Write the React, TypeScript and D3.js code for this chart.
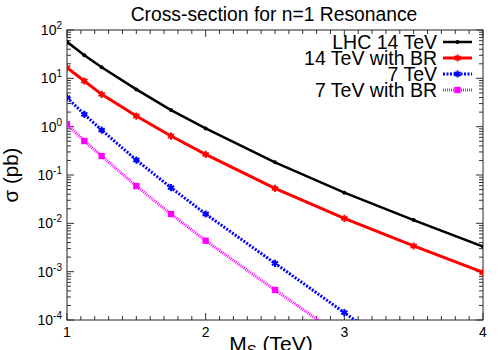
import React, { useRef, useEffect } from "react";
import * as d3 from "d3";

const masses = [1, 1.125, 1.25, 1.5, 1.75, 2, 2.5, 3, 3.5, 4];
const lhc14 = [57, 30, 16.9, 5.9, 2.2, 0.92, 0.183, 0.043, 0.0117, 0.0033];
const lhc14BR = [16.6, 8.8, 4.67, 1.66, 0.64, 0.268, 0.053, 0.0127, 0.0034, 0.00097];
const lhc7 = [3.98, 1.8, 0.85, 0.204, 0.0547, 0.0156, 0.00149, 0.000142, 0.000014, 0.0000014];
const lhc7BR = [1.12, 0.505, 0.247, 0.059, 0.0156, 0.00437, 0.000418, 0.000042, 0.0000042, 0.00000042];

const xTicks = [1, 2, 3, 4];
const yExponents = [-4, -3, -2, -1, 0, 1, 2];

const seriesList = [
  { name: "LHC 14 TeV", values: lhc14, color: "#000000", width: 2.5, dash: null, marker: "dot" },
  { name: "14 TeV with BR", values: lhc14BR, color: "#ff0000", width: 3, dash: null, marker: "star" },
  { name: "7 TeV", values: lhc7, color: "#0000ff", width: 3, dash: "2,1.5", marker: "star" },
  { name: "7 TeV with BR", values: lhc7BR, color: "#ff00ff", width: 3, dash: "1,1", marker: "square" },
];

export default function App() {
  const chartRef = useRef<SVGSVGElement>(null);

  useEffect(() => {
    const width = 500;
    const height = 350;
    const margin = { top: 30, right: 17, bottom: 30, left: 67 };

    const svg = d3.select(chartRef.current);
    svg.selectAll("*").remove();
    svg.attr("width", width).attr("height", height)
      .style("font-family", "'Liberation Sans', Arial, sans-serif");

    const x = d3.scaleLinear().domain([1, 4]).range([margin.left, width - margin.right]);
    const y = d3.scaleLog().domain([1e-4, 1e2]).range([height - margin.bottom, margin.top]);
    const [x0, x1] = x.range();
    const [y0, y1] = y.range();

    svg.append("defs").append("clipPath").attr("id", "plot-clip")
      .append("rect").attr("x", x0).attr("y", y1).attr("width", x1 - x0).attr("height", y0 - y1);

    // title
    svg.append("text").attr("x", 274).attr("y", 21)
      .attr("text-anchor", "middle").attr("font-size", 19.3).text("Cross-section for n=1 Resonance");

    const frame = svg.append("g").attr("stroke", "#333").attr("stroke-width", 1);

    // x ticks, bottom and top
    const xMinor = d3.range(10, 41).map(d => d / 10);
    xMinor.forEach(v => {
      const major = Number.isInteger(v);
      const len = major ? 7 : 4;
      frame.append("line").attr("x1", x(v)).attr("x2", x(v)).attr("y1", y0).attr("y2", y0 - len);
      frame.append("line").attr("x1", x(v)).attr("x2", x(v)).attr("y1", y1).attr("y2", y1 + len);
    });

    // y ticks, left and right
    yExponents.forEach(e => {
      const v = Math.pow(10, e);
      frame.append("line").attr("x1", x0).attr("x2", x0 + 7).attr("y1", y(v)).attr("y2", y(v));
      frame.append("line").attr("x1", x1).attr("x2", x1 - 7).attr("y1", y(v)).attr("y2", y(v));
      if (e < 2) {
        d3.range(2, 10).forEach(m => {
          const mv = m * v;
          frame.append("line").attr("x1", x0).attr("x2", x0 + 4).attr("y1", y(mv)).attr("y2", y(mv));
          frame.append("line").attr("x1", x1).attr("x2", x1 - 4).attr("y1", y(mv)).attr("y2", y(mv));
        });
      }
    });

    frame.append("rect").attr("x", x0).attr("y", y1).attr("width", x1 - x0).attr("height", y0 - y1)
      .attr("fill", "none").attr("stroke", "#222");

    // tick labels
    xTicks.forEach(v => {
      svg.append("text").attr("x", x(v)).attr("y", y0 + 17).attr("text-anchor", "middle")
        .attr("font-size", 14).text(v);
    });
    yExponents.forEach(e => {
      const t = svg.append("text").attr("x", x0 - 5).attr("y", y(Math.pow(10, e)) + 5)
        .attr("text-anchor", "end").attr("font-size", 14);
      t.append("tspan").text("10");
      t.append("tspan").attr("dy", -6).attr("font-size", 10).text(e);
    });

    // axis labels
    const xl = svg.append("text").attr("x", 271).attr("y", y0 + 31)
      .attr("text-anchor", "middle").attr("font-size", 21);
    xl.append("tspan").text("M");
    xl.append("tspan").attr("dy", 4).attr("font-size", 15).text("S");
    xl.append("tspan").attr("dy", -4).text(" (TeV)");

    svg.append("text").attr("transform", `translate(18,${(y0 + y1) / 2}) rotate(-90)`)
      .attr("text-anchor", "middle").attr("font-size", 20.5).text("σ (pb)");

    const line = d3.line<number>().x((_, i) => x(masses[i])).y(d => y(d));
    const star = d3.symbol().type(d3.symbolAsterisk).size(36)();
    const square = d3.symbol().type(d3.symbolSquare).size(40)();

    const drawMarker = (g: any, s: any, px: number, py: number) => {
      if (s.marker === "dot") {
        g.append("circle").attr("cx", px).attr("cy", py).attr("r", 2).attr("fill", s.color);
      } else if (s.marker === "star") {
        g.append("path").attr("d", star).attr("transform", `translate(${px},${py})`)
          .attr("fill", "none").attr("stroke", s.color).attr("stroke-width", 2);
      } else {
        g.append("path").attr("d", square).attr("transform", `translate(${px},${py})`)
          .attr("fill", s.color);
      }
    };

    const plot = svg.append("g").attr("clip-path", "url(#plot-clip)");
    seriesList.forEach(s => {
      plot.append("path").datum(s.values).attr("d", line)
        .attr("fill", "none").attr("stroke", s.color).attr("stroke-width", s.width)
        .attr("stroke-dasharray", s.dash);
      s.values.forEach((v, i) => {
        if (v >= 1e-4) drawMarker(plot, s, x(masses[i]), y(v));
      });
    });

    // legend
    const legend = svg.append("g");
    seriesList.forEach((s, i) => {
      const ly = 42 + i * 16;
      legend.append("text").attr("x", 437).attr("y", ly + 6.5).attr("text-anchor", "end")
        .attr("font-size", 19.5).text(s.name);
      legend.append("line").attr("x1", 443).attr("x2", 472).attr("y1", ly).attr("y2", ly)
        .attr("stroke", s.color).attr("stroke-width", s.width).attr("stroke-dasharray", s.dash);
      drawMarker(legend, s, 457.5, ly);
    });
  }, []);

  return (
    <div style={{ position: "absolute", left: 0, top: 0 }}>
      <svg ref={chartRef}></svg>
    </div>
  );
}
